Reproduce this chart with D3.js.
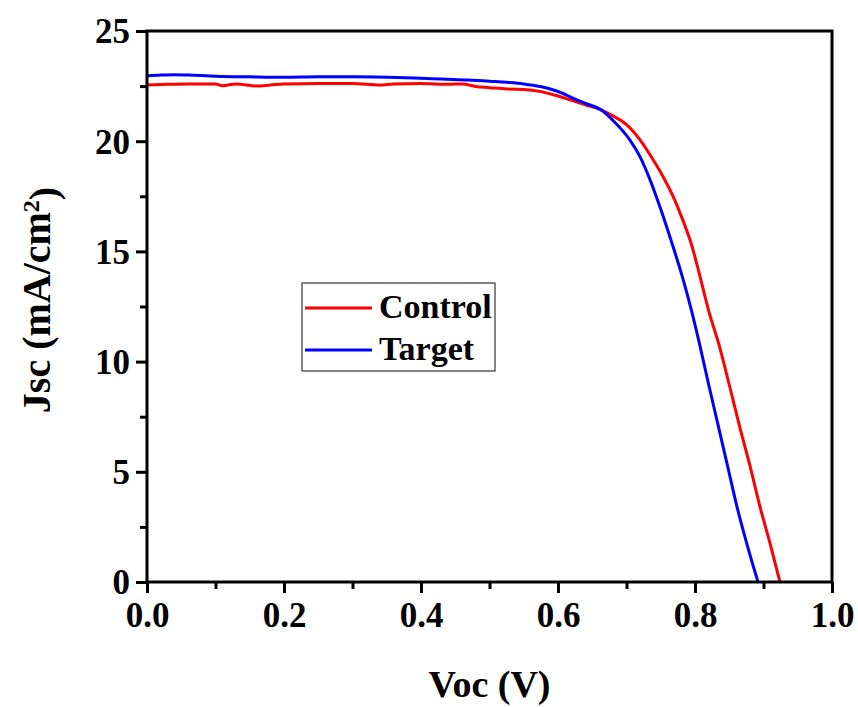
<!DOCTYPE html>
<html>
<head>
<meta charset="utf-8">
<script src="https://cdn.jsdelivr.net/npm/d3@7/dist/d3.min.js"></script>
<style>
  html, body { margin: 0; padding: 0; background: #fff; }
  svg text { font-family: "Liberation Serif", "Times New Roman", serif; font-weight: bold; fill: #000; }
</style>
</head>
<body>
<svg id="chart" width="858" height="707"></svg>
<script>
// ---- data ----
const controlV = [0, 0.03, 0.06, 0.1, 0.11, 0.13, 0.16, 0.18, 0.2, 0.25, 0.3, 0.34, 0.36, 0.4, 0.44, 0.46, 0.48, 0.5, 0.525, 0.55, 0.575, 0.6, 0.62, 0.64, 0.664, 0.68, 0.7, 0.72, 0.74, 0.755, 0.768, 0.78, 0.795, 0.807, 0.82, 0.836, 0.85, 0.866, 0.88, 0.895, 0.91, 0.924];
const controlJ = [22.55, 22.58, 22.6, 22.6, 22.52, 22.6, 22.5, 22.55, 22.6, 22.62, 22.62, 22.55, 22.6, 22.62, 22.58, 22.6, 22.48, 22.43, 22.37, 22.35, 22.25, 22.05, 21.85, 21.65, 21.4, 21.15, 20.75, 20.05, 19.1, 18.3, 17.5, 16.6, 15.3, 13.9, 12.3, 10.66, 8.95, 6.95, 5.3, 3.4, 1.7, 0];
const targetV = [0, 0.02, 0.04, 0.06, 0.1, 0.15, 0.2, 0.25, 0.3, 0.35, 0.4, 0.43, 0.47, 0.5, 0.525, 0.55, 0.574, 0.603, 0.62, 0.64, 0.664, 0.68, 0.705, 0.72, 0.735, 0.749, 0.765, 0.782, 0.795, 0.807, 0.82, 0.835, 0.848, 0.861, 0.876, 0.892];
const targetJ = [22.96, 23.0, 23.02, 23.0, 22.95, 22.92, 22.9, 22.92, 22.92, 22.9, 22.86, 22.82, 22.78, 22.72, 22.67, 22.6, 22.48, 22.22, 21.98, 21.72, 21.4, 20.95, 20.05, 19.28, 18.2, 17.0, 15.5, 13.8, 12.3, 10.75, 8.95, 6.95, 5.2, 3.45, 1.7, 0];
const seriesNames = ["Control", "Target"];
const seriesColors = ["#ff0000", "#0000ff"];
const xTicks = [0, 0.2, 0.4, 0.6, 0.8, 1.0];
const xMinor = [0.1, 0.3, 0.5, 0.7, 0.9];
const yTicks = [0, 5, 10, 15, 20, 25];
const yMinor = [2.5, 7.5, 12.5, 17.5, 22.5];
const xTitle = "Voc (V)";

// ---- layout ----
const svg = d3.select("#chart");
const L = 147, R = 832, T = 31, B = 582;
const x = d3.scaleLinear().domain([0, 1]).range([L, R]);
const y = d3.scaleLinear().domain([0, 25]).range([B, T]);

const series = [
  { name: seriesNames[0], color: seriesColors[0], pts: controlV.map((v, i) => [v, controlJ[i]]) },
  { name: seriesNames[1], color: seriesColors[1], pts: targetV.map((v, i) => [v, targetJ[i]]) }
];

const line = d3.line().x(d => x(d[0])).y(d => y(d[1])).curve(d3.curveMonotoneX);
svg.append("g")
  .selectAll("path").data(series).join("path")
  .attr("d", d => line(d.pts))
  .attr("fill", "none")
  .attr("stroke", d => d.color)
  .attr("stroke-width", 3);

// axes
function styleAxis(g) {
  g.select(".domain").remove();
  g.selectAll(".tick line").attr("stroke", "#000").attr("stroke-width", 3);
}
const fs = 35;
svg.append("g").attr("transform", `translate(0,${B})`)
  .call(d3.axisBottom(x).tickValues(xMinor).tickSize(7).tickFormat(""))
  .call(styleAxis);
svg.append("g").attr("transform", `translate(0,${B})`)
  .call(d3.axisBottom(x).tickValues(xTicks).tickSize(11).tickPadding(9).tickFormat(d3.format(".1f")))
  .call(styleAxis)
  .call(g => g.selectAll("text").style("font-size", fs + "px").attr("dy", "0.7em"));
svg.append("g").attr("transform", `translate(${L},0)`)
  .call(d3.axisLeft(y).tickValues(yMinor).tickSize(7).tickFormat(""))
  .call(styleAxis);
svg.append("g").attr("transform", `translate(${L},0)`)
  .call(d3.axisLeft(y).tickValues(yTicks).tickSize(11).tickPadding(6).tickFormat(d3.format("d")))
  .call(styleAxis)
  .call(g => g.selectAll("text").style("font-size", fs + "px").attr("dy", "0.34em"));

// frame
svg.append("rect").attr("x", L).attr("y", T).attr("width", R - L).attr("height", B - T)
  .attr("fill", "none").attr("stroke", "#000").attr("stroke-width", 3);

// axis titles
svg.append("text").attr("x", (L + R) / 2).attr("y", 697).attr("text-anchor", "middle")
  .style("font-size", "38px").text(xTitle);
const yt = svg.append("text").attr("transform", "translate(50,300) rotate(-90)")
  .attr("text-anchor", "middle").style("font-size", "40px");
yt.append("tspan").text("Jsc (mA/cm");
yt.append("tspan").attr("dy", "-0.45em").style("font-size", "24px").text("2");
yt.append("tspan").attr("dy", "0.45em").text(")");

// legend
const lg = svg.append("g");
lg.append("rect").attr("x", 302).attr("y", 283).attr("width", 193).attr("height", 88)
  .attr("fill", "#fff").attr("stroke", "#333").attr("stroke-width", 1.2);
const ly = [308, 350];
series.forEach((s, i) => {
  lg.append("line").attr("x1", 305).attr("x2", 372).attr("y1", ly[i]).attr("y2", ly[i])
    .attr("stroke", s.color).attr("stroke-width", 3);
  lg.append("text").attr("x", 379).attr("y", ly[i] + 10).style("font-size", "34px").text(s.name);
});
</script>
</body>
</html>
